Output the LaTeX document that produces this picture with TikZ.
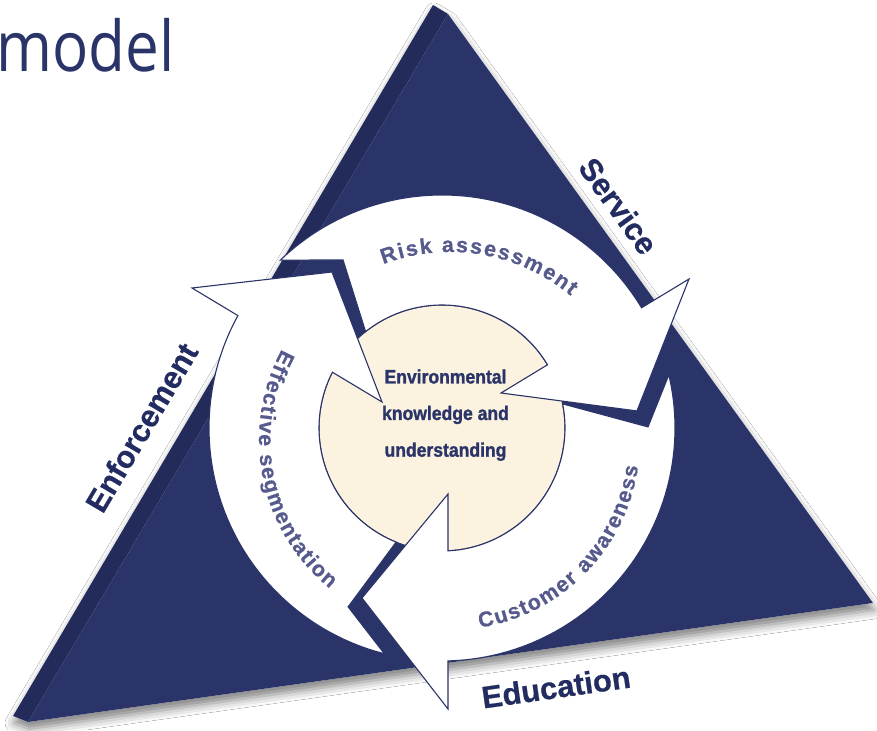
\documentclass[tikz,border=0pt]{standalone}
\usepackage{fontspec}
\setmainfont{Liberation Sans}
\newfontfamily\titlefont[FakeStretch=0.86]{Open Sans}
\newfontfamily\condfont[FakeStretch=0.9, FakeBold=1.2]{Liberation Sans}
\newfontfamily\heavysans[FakeBold=0.6]{Liberation Sans}
\usetikzlibrary{decorations.text,shadows.blur}

\definecolor{navy}{RGB}{42,52,104}
\definecolor{navyside}{RGB}{35,43,90}
\definecolor{labelnavy}{RGB}{35,44,96}
\definecolor{ringtext}{RGB}{86,90,140}
\definecolor{core}{RGB}{251,242,223}

\newcommand{\ringfont}{\heavysans\bfseries\fontsize{21.5}{24}\selectfont}

\begin{document}
\begin{tikzpicture}[x=1pt,y=1pt,
  arrowshape/.style={fill=white, draw=navy, line width=1.1pt, line join=miter},
  edgelabel/.style={font=\heavysans\bfseries\fontsize{31}{34}\selectfont, text=labelnavy, inner sep=0pt},
  coretext/.style={font=\condfont\bfseries\fontsize{19.5}{22}\selectfont, text=navy, anchor=base, inner sep=0pt},
  ringlabel/.style={decorate, decoration={text along path, text align={fit to path}, text color=ringtext, text={|\ringfont|#1}}},
]
\useasboundingbox (0,0) rectangle (877,730);
\fill[white] (0,0) rectangle (877,730);

% the triangle: a thin darker side face and the front face
\coordinate (backL) at (13,14);
\coordinate (backT) at (433,725);
\coordinate (apex) at (448,716);
\coordinate (left) at (28,8);
\coordinate (right) at (873,127);

\path[fill=white, blur shadow={shadow xshift=1pt, shadow yshift=-7pt, shadow blur radius=9pt, shadow opacity=50}]
  (backL) -- (backT) -- (apex) -- (right) -- (left) -- cycle;
\fill[navyside] (backL) -- (backT) -- (apex) -- (left) -- cycle;
\fill[navy] (left) -- (apex) -- (right) -- cycle;

% the core disc
\coordinate (C) at (442,302);
\fill[core] (C) circle[radius=123];
\draw[navy, line width=1.1pt] (C) circle[radius=123];

% the three cycle arrows (clockwise)
\begin{scope}[shift={(C)}]
  % risk assessment
  \draw[arrowshape] (133.9:233) arc[start angle=133.9, end angle=31.07, radius=233]
    -- (247,149) -- (5.0:195.7) -- (59,35) -- (30.93:123)
    arc[start angle=30.93, end angle=128.4, radius=123]
    -- (120.5:195) -- cycle;
  % effective segmentation
  \draw[arrowshape] (255.7:233) arc[start angle=255.7, end angle=151.16, radius=233]
    -- (-250,140) -- (125.2:190.9) -- (-60,26) -- (153.02:123)
    arc[start angle=153.02, end angle=248.1, radius=123]
    -- (242.3:202) -- cycle;
  % customer awareness
  \draw[arrowshape] (13.2:233) arc[start angle=13.2, end angle=-88.52, radius=233]
    -- (6,-281) -- (-115.2:187.9) -- (6,-66) -- (-87.2:123)
    arc[start angle=-87.2, end angle=11.3, radius=123]
    -- (0.3:206) -- cycle;
\end{scope}

% labels along the arrows
\coordinate (T) at (450,290);
\begin{scope}[shift={(T)}]
  \path[ringlabel={Risk assessment}] (110.8:188) arc[start angle=110.8, end angle=50.1, radius=188];
  \path[ringlabel={Customer awareness}] (279:190) arc[start angle=279, end angle=352, radius=190];
  \path[ringlabel={Effective segmentation}] (151.6:191) arc[start angle=151.6, end angle=231, radius=191];
\end{scope}

% labels along the triangle edges
\node[edgelabel, rotate=-54.1] (service) at (618.5,524) {Service};
\node[edgelabel, rotate=59.4] (enforce) at (141.5,302.5) {Enforcement};
\node[edgelabel, rotate=8.1] (educ) at (556,43) {Education};

% core text
\node[coretext] (core1) at (445.5,346.5) {Environmental};
\node[coretext] (core2) at (445.5,310) {knowledge and};
\node[coretext] (core3) at (445.5,273.3) {understanding};

% heading fragment
\node[anchor=base west, inner sep=0pt, text=navy, font=\titlefont\fontsize{70}{80}\selectfont] (title) at (-4,658.5) {model};
\end{tikzpicture}
\end{document}
